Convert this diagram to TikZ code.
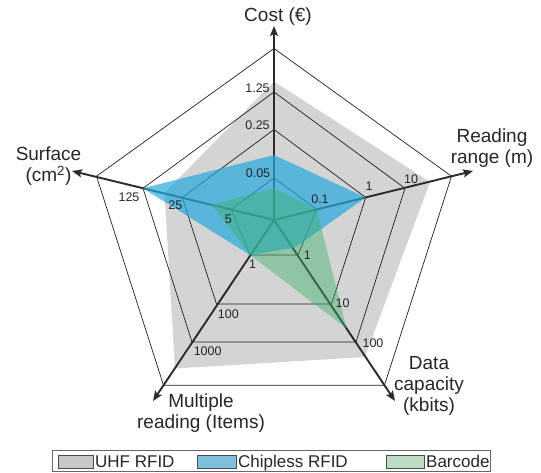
\documentclass[tikz,border=0pt]{standalone}
\usepackage{fontspec}
\setmainfont{Liberation Sans}
\usetikzlibrary{arrows.meta}
\definecolor{uhf}{RGB}{212,212,212}
\definecolor{chip}{RGB}{39,169,221}
\definecolor{bar}{RGB}{60,178,109}
\definecolor{ringc}{RGB}{30,30,30}
\definecolor{axisc}{RGB}{43,43,43}
\definecolor{leguhf}{RGB}{200,200,200}
\definecolor{legchip}{RGB}{125,193,220}
\definecolor{legbar}{RGB}{188,220,196}
\tikzset{
  ring/.style={draw=ringc,line width=0.7pt,line join=miter},
  axisline/.style={draw=axisc,line width=1.9pt,-{Stealth[length=10pt,width=8pt,inset=2pt]}},
  axlabel/.style={font=\fontsize{19}{21}\selectfont,align=center,inner sep=0pt,text=black!85},
  tick/.style={font=\fontsize{12.5}{14}\selectfont,inner sep=0pt,text=black!85},
  legtext/.style={font=\fontsize{17}{19}\selectfont,inner sep=0pt,anchor=base west,text=black!85},
  swatch/.style={draw=black!70,line width=0.5pt}
}
\begin{document}
\begin{tikzpicture}[x=1pt,y=-1pt]
\useasboundingbox (0,0) rectangle (541,472);
% centre and axis tips
\coordinate (C) at (274,220);
\coordinate (Ttip) at (274,26);
\coordinate (Rtip) at (473,171);
\coordinate (Ltip) at (72,171);
\coordinate (LLtip) at (153,401);
\coordinate (LRtip) at (395,401);
% ring vertices: top, right, lower-right, lower-left, left
\coordinate (t1) at (274,178);   \coordinate (r1) at (316.7,209.3); \coordinate (b1) at (298,255);   \coordinate (a1) at (250,255);   \coordinate (l1) at (231.3,209.3);
\coordinate (t2) at (274,129.5); \coordinate (r2) at (365.7,197.5); \coordinate (b2) at (331.5,304); \coordinate (a2) at (216.5,304); \coordinate (l2) at (182.3,197.5);
\coordinate (t3) at (274,92);    \coordinate (r3) at (405,188.3);   \coordinate (b3) at (356,342);   \coordinate (a3) at (192,342);   \coordinate (l3) at (143,188.3);
\coordinate (t4) at (274,48.5);  \coordinate (r4) at (451.5,176.2); \coordinate (b4) at (384.5,385.2); \coordinate (a4) at (163.5,385.2); \coordinate (l4) at (96.5,176.2);
% UHF RFID
\fill[uhf] (274,81.5) -- (430,182) -- (365,357) -- (175,368.5) -- (164.5,193) -- cycle;
% rings
\foreach \i in {1,2,3,4}{
  \draw[ring] (t\i) -- (r\i) -- (b\i) -- (a\i) -- (l\i) -- cycle;
}
% axes
\draw[axisline] (C) -- (Ttip);
\draw[axisline] (C) -- (Rtip);
\draw[axisline] (C) -- (Ltip);
\draw[axisline] (C) -- (LLtip);
\draw[axisline] (C) -- (LRtip);
% Chipless RFID
\fill[chip,opacity=0.7] (274,155) -- (r2) -- (295,247.5) -- (a1) -- (l3) -- cycle;
% Barcode
\fill[bar,opacity=0.45] (274,188.3) -- (r1) -- (346.5,328.3) -- (a1) -- (211.7,204.5) -- cycle;
% axis labels
\node[axlabel] (cost) at (278,17) {Cost (€)};
\node[axlabel] (range) at (492,148) {Reading\\range (m)};
\node[axlabel] (surf) at (48.5,166) {Surface\\(cm\textsuperscript{2})};
\node[axlabel] (data) at (429,386) {Data\\capacity\\(kbits)};
\node[axlabel] (mult) at (201,413) {Multiple\\reading (Items)};
% tick labels
\node[tick] (k1) at (257.5,88) {1.25};
\node[tick] (k2) at (257.5,125) {0.25};
\node[tick] (k3) at (258,173.3) {0.05};
\node[tick] (k4) at (320,199.3) {0.1};
\node[tick] (k5) at (369,186) {1};
\node[tick] (k6) at (411,179.3) {10};
\node[tick] (k7) at (129,196.7) {125};
\node[tick] (k8) at (175.3,205) {25};
\node[tick] (k9) at (228.3,219) {5};
\node[tick] (k10) at (252.7,264.3) {1};
\node[tick] (k11) at (228.3,314) {100};
\node[tick] (k12) at (207.7,350.7) {1000};
\node[tick] (k13) at (307.3,255) {1};
\node[tick] (k14) at (342.5,302.7) {10};
\node[tick] (k15) at (373,343.3) {100};
% legend
\draw[draw=black!60,line width=0.6pt] (52,450.5) rectangle (490.5,471.5);
\draw[swatch,fill=leguhf] (58,455) rectangle (93,468);
\node[legtext] (lg1) at (95,467.5) {UHF RFID};
\draw[swatch,fill=legchip] (197,455) rectangle (236,468);
\node[legtext] (lg2) at (238,467.5) {Chipless RFID};
\draw[swatch,fill=legbar] (386,455) rectangle (424,468);
\node[legtext] (lg3) at (426,467.5) {Barcode};
\end{tikzpicture}
\end{document}
